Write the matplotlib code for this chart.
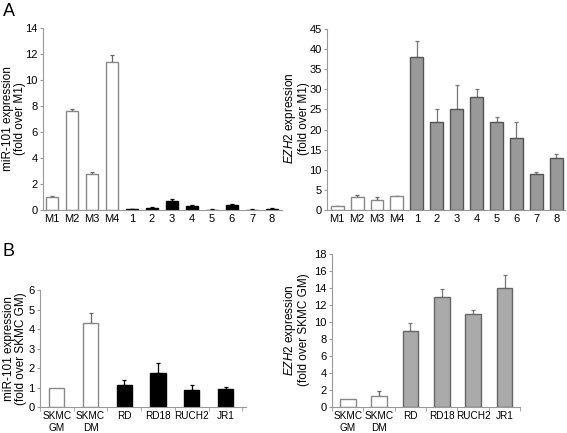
import matplotlib.pyplot as plt

plt.rcParams["font.family"] = ["Liberation Sans", "DejaVu Sans"]
plt.rcParams["mathtext.fontset"] = "custom"
plt.rcParams["mathtext.it"] = "Liberation Sans:italic"
plt.rcParams["mathtext.rm"] = "Liberation Sans"

# panel A
a_labels = ["M1", "M2", "M3", "M4", "1", "2", "3", "4", "5", "6", "7", "8"]
a_mir = [1.0, 7.6, 2.75, 11.4, 0.05, 0.15, 0.7, 0.3, 0.03, 0.4, 0.03, 0.1]
a_mir_err = [0.05, 0.15, 0.2, 0.5, 0.02, 0.05, 0.15, 0.06, 0.02, 0.06, 0.02, 0.03]
a_ezh = [1.0, 3.3, 2.6, 3.5, 38, 22, 25, 28, 22, 18, 9, 13]
a_ezh_err = [0.05, 0.5, 0.7, 0.1, 4, 3, 6, 2, 1, 4, 0.5, 1]

# panel B
b_labels = ["SKMC\nGM", "SKMC\nDM", "RD", "RD18", "RUCH2", "JR1"]
b_mir = [1.0, 4.3, 1.15, 1.75, 0.88, 0.92]
b_mir_err = [0.0, 0.55, 0.25, 0.5, 0.25, 0.1]
b_ezh = [1.0, 1.3, 9.0, 13.0, 11.0, 14.0]
b_ezh_err = [0.0, 0.6, 0.9, 0.85, 0.45, 1.6]

n_ctrl_a = 4
n_ctrl_b = 2

fig = plt.figure(figsize=(5.67, 4.33), dpi=100)
fig.patch.set_facecolor("white")


def style_axes(ax, ylim, step, xlim, fs_y, fs_x, xticks_between=False):
    ax.set_ylim(*ylim)
    ax.set_yticks(range(ylim[0], ylim[1] + 1, step))
    ax.set_xlim(*xlim)
    ax.spines["top"].set_visible(False)
    ax.spines["right"].set_visible(False)
    ax.spines["left"].set_color("#999999")
    ax.spines["bottom"].set_color("#999999")
    ax.tick_params(axis="y", length=2, color="#999999", labelsize=fs_y, pad=2)
    ax.tick_params(axis="x", length=0, labelsize=fs_x, pad=3)
    if xticks_between:
        n = int(round(xlim[1])) + 1
        ax.set_xticks([i - 0.5 for i in range(n)], minor=True)
        ax.tick_params(axis="x", which="minor", length=3, color="#999999")


def draw_bars(ax, labels, vals, errs, n_ctrl, color, edge, width, ecolor):
    x = list(range(len(vals)))
    colors = ["white"] * n_ctrl + [color] * (len(vals) - n_ctrl)
    edges = ["#888888"] * n_ctrl + [edge] * (len(vals) - n_ctrl)
    ecols = ["#666666"] * n_ctrl + [ecolor] * (len(vals) - n_ctrl)
    ax.bar(x, vals, width=width, color=colors, edgecolor=edges, linewidth=1.0, zorder=2)
    for xi, v, e, c in zip(x, vals, errs, ecols):
        if e > 0:
            ax.errorbar(xi, v, yerr=[[0], [e]], fmt="none", ecolor=c,
                        elinewidth=0.9, capsize=1.2, capthick=0.9, zorder=1)
    ax.set_xticks(x)
    ax.set_xticklabels(labels)


def ylabel(x, y, text):
    fig.text(x, y, text, rotation=90, ha="center", va="center",
             fontsize=8.5, linespacing=1.0, multialignment="center")


ax1 = fig.add_axes([0.0758, 0.515, 0.4215, 0.420])
draw_bars(ax1, a_labels, a_mir, a_mir_err, n_ctrl_a, "black", "black", 0.6, "black")
style_axes(ax1, (0, 14), 2, (-0.45, 11.5), 8, 8)
ylabel(0.024, 0.727, "miR-101 expression\n(fold over M1)")

ax2 = fig.add_axes([0.577, 0.515, 0.420, 0.418])
draw_bars(ax2, a_labels, a_ezh, a_ezh_err, n_ctrl_a, "#999999", "#555555", 0.65, "#777777")
style_axes(ax2, (0, 45), 5, (-0.5, 11.45), 8, 8)
ylabel(0.522, 0.727, "$\\mathit{EZH2}$ expression\n(fold over M1)")

ax3 = fig.add_axes([0.0705, 0.060, 0.363, 0.270])
draw_bars(ax3, b_labels, b_mir, b_mir_err, n_ctrl_b, "black", "black", 0.45, "black")
style_axes(ax3, (0, 6), 1, (-0.45, 5.6), 8, 7.2, xticks_between=True)
ylabel(0.026, 0.194, "miR-101 expression\n(fold over SKMC GM)")

ax4 = fig.add_axes([0.5855, 0.060, 0.332, 0.353])
draw_bars(ax4, b_labels, b_ezh, b_ezh_err, n_ctrl_b, "#aaaaaa", "#666666", 0.5, "#777777")
style_axes(ax4, (0, 18), 2, (-0.5, 5.5), 8, 7.2, xticks_between=True)
ylabel(0.522, 0.238, "$\\mathit{EZH2}$ expression\n(fold over SKMC GM)")

fig.text(0.006, 0.993, "A", fontsize=13, va="top", ha="left")
fig.text(0.004, 0.438, "B", fontsize=13, va="top", ha="left")

fig.savefig("out.png", dpi=100, facecolor="white")
